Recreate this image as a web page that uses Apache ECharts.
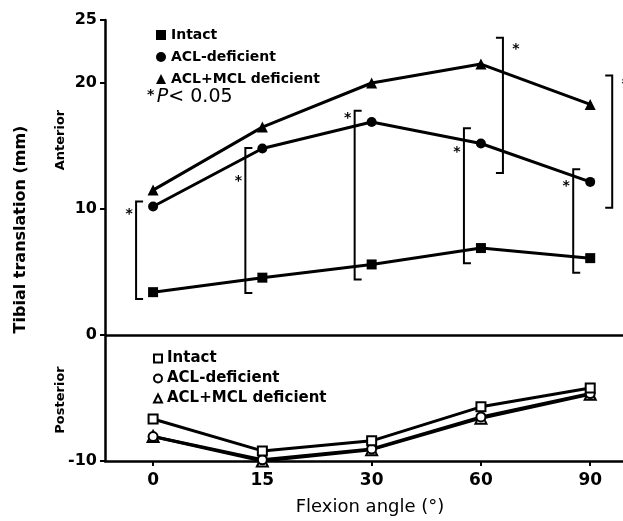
<!DOCTYPE html>
<html>
<head>
<meta charset="utf-8">
<script src="https://cdn.jsdelivr.net/npm/echarts@6/dist/echarts.min.js"></script>
<style>html,body{margin:0;padding:0;background:#fff}#c{width:623px;height:521px}</style>
</head>
<body>
<div id="c"></div>
<script>
// ---- data ----
const categories = ['0', '15', '30', '60', '90'];
const yTickValues = [-10, 0, 10, 20, 25];
const antIntact = [3.4, 4.55, 5.6, 6.9, 6.1];
const antACL = [10.2, 14.8, 16.9, 15.2, 12.15];
const antACLMCL = [11.5, 16.5, 20.0, 21.5, 18.3];
const postIntact = [-6.67, -9.2, -8.4, -5.7, -4.2];
const postACL = [-8.06, -9.9, -9.05, -6.5, -4.65];
const postACLMCL = [-8.06, -10.0, -9.1, -6.6, -4.7];
// significance brackets: category index, low, high, side (-1 left / 1 right), star value
const bracketCat = [0, 1, 2, 3, 3, 4, 4];
const bracketLow = [2.85, 3.33, 4.4, 5.7, 12.85, 4.95, 10.1];
const bracketHigh = [10.6, 14.85, 17.8, 16.4, 23.6, 13.15, 20.6];
const bracketSide = [-1, -1, -1, -1, 1, -1, 1];
const bracketStar = [9.9, 12.5, 17.5, 14.8, 23.0, 12.1, 20.2];

const FONT = 'DejaVu Sans';
const toXY = arr => arr.map((v, i) => [i, v]);
const bracketData = bracketCat.map((c, i) => [c, bracketLow[i], bracketHigh[i], bracketSide[i], bracketStar[i]]);

const chart = echarts.init(document.getElementById('c'), null, {renderer: 'canvas'});

function lineSeries(name, data, symbol, hollow, z) {
  return {
    name: name, type: 'line', data: toXY(data), symbol: symbol,
    symbolSize: symbol === 'triangle' ? 11 : (hollow ? 9 : 10),
    lineStyle: {color: '#000', width: 3},
    itemStyle: hollow ? {color: '#fff', borderColor: '#000', borderWidth: 2} : {color: '#000'},
    z: z, animation: false, silent: true
  };
}

const option = {
  animation: false,
  backgroundColor: '#fff',
  grid: {left: 105, right: 0, top: 20, bottom: 59, containLabel: false},
  xAxis: {
    type: 'value', min: -0.44, max: 4.3,
    name: 'Flexion angle (°)', nameLocation: 'middle', nameGap: 37,
    nameTextStyle: {fontFamily: FONT, fontSize: 18, color: '#000', padding: [0, 0, 0, 12]},
    axisLine: {show: true, onZero: false, lineStyle: {color: '#000', width: 2.5}},
    axisTick: {show: true, customValues: [0, 1, 2, 3, 4], length: 5, lineStyle: {color: '#000', width: 2}},
    axisLabel: {customValues: [0, 1, 2, 3, 4], formatter: v => categories[Math.round(v)], margin: 11,
      fontFamily: FONT, fontWeight: 'bold', fontSize: 17, color: '#000'},
    splitLine: {show: false}
  },
  yAxis: {
    type: 'value', min: -10, max: 25,
    name: 'Tibial translation (mm)', nameLocation: 'middle', nameGap: 76, nameRotate: 90,
    nameTextStyle: {fontFamily: FONT, fontWeight: 'bold', fontSize: 16, color: '#000', padding: [0, 0, 0, 22]},
    axisLine: {show: true, onZero: false, lineStyle: {color: '#000', width: 2.5}},
    axisTick: {show: true, customValues: yTickValues, length: 5, lineStyle: {color: '#000', width: 2}},
    axisLabel: {customValues: yTickValues, margin: 8, fontFamily: FONT, fontWeight: 'bold', fontSize: 16, color: '#000'},
    splitLine: {show: false}
  },
  legend: [
    {
      orient: 'vertical', left: 151, top: 23, itemWidth: 10, itemHeight: 10, itemGap: 8, selectedMode: false,
      textStyle: {fontFamily: FONT, fontWeight: 'bold', fontSize: 14, color: '#000'},
      data: [
        {name: 'Intact', icon: 'rect', itemStyle: {color: '#000'}},
        {name: 'ACL-deficient', icon: 'circle', itemStyle: {color: '#000'}},
        {name: 'ACL+MCL deficient', icon: 'triangle', itemStyle: {color: '#000'}}
      ]
    },
    {
      orient: 'vertical', left: 148, top: 346, itemWidth: 8, itemHeight: 8, itemGap: 5, selectedMode: false,
      formatter: n => n.replace(' (posterior)', ''),
      textStyle: {fontFamily: FONT, fontWeight: 'bold', fontSize: 15, color: '#000'},
      data: [
        {name: 'Intact (posterior)', icon: 'rect', itemStyle: {color: '#fff', borderColor: '#000', borderWidth: 2}},
        {name: 'ACL-deficient (posterior)', icon: 'circle', itemStyle: {color: '#fff', borderColor: '#000', borderWidth: 2}},
        {name: 'ACL+MCL deficient (posterior)', icon: 'triangle', itemStyle: {color: '#fff', borderColor: '#000', borderWidth: 2}}
      ]
    }
  ],
  graphic: [
    {type: 'text', left: 147, top: 88, silent: true,
      style: {text: '{s|*}{g| }{p|P}{n|< 0.05}', fill: '#000',
        rich: {
          s: {fontFamily: FONT, fontSize: 14, fontWeight: 'bold', verticalAlign: 'top'},
          g: {fontFamily: FONT, fontSize: 8},
          p: {fontFamily: FONT, fontSize: 19, fontStyle: 'italic'},
          n: {fontFamily: FONT, fontSize: 19}
        }}},
    {type: 'text', x: 61, y: 140, rotation: Math.PI / 2, silent: true,
      style: {text: 'Anterior', fontFamily: FONT, fontWeight: 'bold', fontSize: 13, fill: '#000', align: 'center', verticalAlign: 'middle'}},
    {type: 'text', x: 61, y: 400, rotation: Math.PI / 2, silent: true,
      style: {text: 'Posterior', fontFamily: FONT, fontWeight: 'bold', fontSize: 13, fill: '#000', align: 'center', verticalAlign: 'middle'}}
  ],
  series: [
    {
      name: 'zero', type: 'line', data: [], silent: true,
      markLine: {silent: true, symbol: 'none', label: {show: false},
        lineStyle: {color: '#000', width: 2.5, type: 'solid'}, data: [{yAxis: 0}]}
    },
    lineSeries('Intact', antIntact, 'rect', false, 3),
    lineSeries('ACL-deficient', antACL, 'circle', false, 3),
    lineSeries('ACL+MCL deficient', antACLMCL, 'triangle', false, 3),
    lineSeries('ACL+MCL deficient (posterior)', postACLMCL, 'triangle', true, 2),
    lineSeries('ACL-deficient (posterior)', postACL, 'circle', true, 3),
    lineSeries('Intact (posterior)', postIntact, 'rect', true, 4),
    {
      name: 'brackets', type: 'custom', data: bracketData, silent: true, z: 5,
      renderItem: function (params, api) {
        const lo = api.coord([api.value(0), api.value(1)]);
        const hi = api.coord([api.value(0), api.value(2)]);
        const st = api.coord([api.value(0), api.value(4)]);
        const side = api.value(3);
        const cx = lo[0] + (side < 0 ? -17 : 22);
        const e = side < 0 ? 7 : -7;
        return {
          type: 'group',
          children: [
            {type: 'polyline', shape: {points: [[cx + e, hi[1]], [cx, hi[1]], [cx, lo[1]], [cx + e, lo[1]]]},
              style: {stroke: '#000', lineWidth: 2, fill: null}},
            {type: 'text', x: side < 0 ? cx - 7 : cx + 13, y: st[1] + 4,
              style: {text: '*', fontFamily: FONT, fontWeight: 'bold', fontSize: 14, fill: '#000', align: 'center', verticalAlign: 'middle'}}
          ]
        };
      }
    }
  ]
};
chart.setOption(option);
</script>
</body>
</html>
